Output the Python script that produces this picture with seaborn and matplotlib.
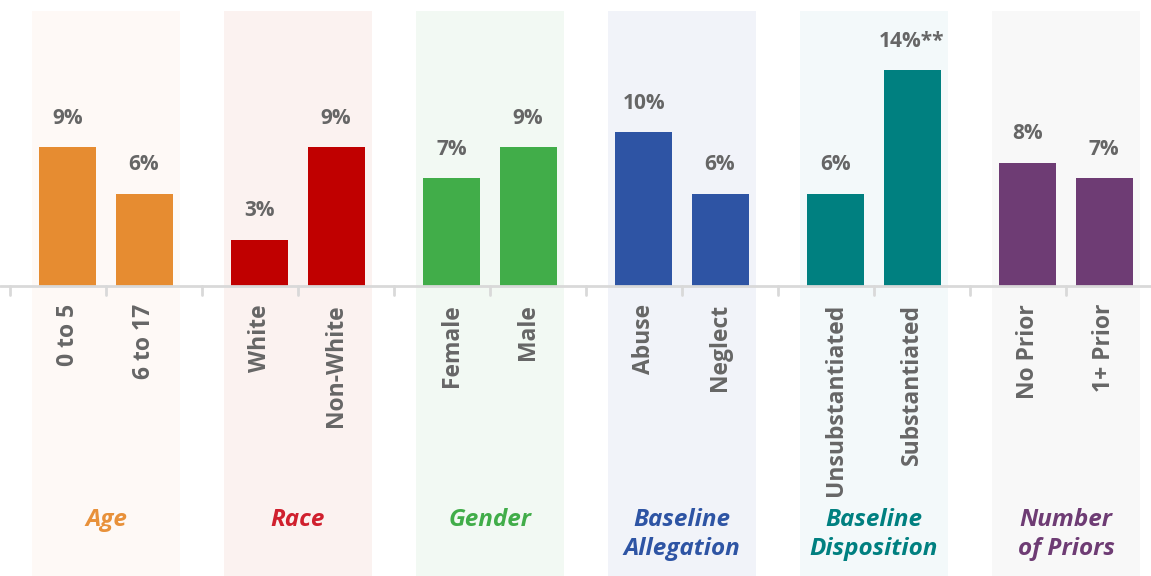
import matplotlib.pyplot as plt
import seaborn as sns
import pandas as pd

groups = ['Age', 'Race', 'Gender', 'Baseline\nAllegation', 'Baseline\nDisposition', 'Number\nof Priors']
categories = ['0 to 5', '6 to 17', 'White', 'Non-White', 'Female', 'Male',
              'Abuse', 'Neglect', 'Unsubstantiated', 'Substantiated', 'No Prior', '1+ Prior']
values = [9, 6, 3, 9, 7, 9, 10, 6, 6, 14, 8, 7]
labels = ['9%', '6%', '3%', '9%', '7%', '9%', '10%', '6%', '6%', '14%**', '8%', '7%']

bar_colors = ['#E68C31', '#C00000', '#41AD49', '#2E54A4', '#008080', '#6E3C74']
title_colors = ['#E8913A', '#D0202E', '#41AD49', '#2E54A4', '#008080', '#6E3C74']
band_colors = ['#FEF9F6', '#FBF2F0', '#F2F9F3', '#F1F3F9', '#F3F9FA', '#F8F8F8']

sns.set_style('white')
plt.rcParams['font.family'] = ['Open Sans', 'DejaVu Sans']

# each group occupies two axis slots, bars sit inside around the group centre
pos = []
for i in range(len(values)):
    g = i // 2
    pos.append(2 * g + 1 + (-0.396 if i % 2 == 0 else 0.396))

df = pd.DataFrame({'pos': pos, 'value': values, 'cat': categories})
df['group'] = [groups[i // 2] for i in range(len(values))]

fig = plt.figure(figsize=(11.51, 5.76), dpi=100)
ax = fig.add_axes([0, 0, 1, 1])

px = 15.4  # pixels per percentage point
ylo, yhi = -290 / px, 286 / px
ax.set_xlim(-10 / 96, 1141 / 96)
ax.set_ylim(ylo, yhi)

# background bands
for g in range(len(groups)):
    c = 2 * g + 1
    ax.axvspan(c - 0.776, c + 0.776, ymin=0, ymax=(275 / px - ylo) / (yhi - ylo),
               color=band_colors[g], zorder=0, lw=0)

sns.barplot(data=df, x='pos', y='value', hue='group', palette=bar_colors,
            native_scale=True, width=0.75, dodge=False, legend=False,
            saturation=1, linewidth=0, ax=ax, zorder=2)
ax.set_xlim(-10 / 96, 1141 / 96)
ax.set_ylim(ylo, yhi)

# axis line and ticks
ax.axhline(0, color='#D9D9D9', lw=2, zorder=3)
for t in range(13):
    ax.plot([t, t], [0, -9 / px], color='#D9D9D9', lw=2, zorder=3)

gray = '#666666'
for x, v, lab, cat in zip(pos, values, labels, categories):
    ax.text(x, v + 1.2, lab, ha='center', va='bottom', fontsize=15,
            fontweight='bold', color=gray)
    ax.text(x, -18 / px, cat, ha='center', va='top', rotation=90, fontsize=16.5,
            fontweight='bold', color=gray)

for g, name in enumerate(groups):
    ax.text(2 * g + 1, -222 / px, name, ha='center', va='top', fontsize=17.5,
            fontweight='bold', fontstyle='italic', color=title_colors[g],
            linespacing=1.3)

ax.axis('off')
fig.savefig('out.png', dpi=100)
